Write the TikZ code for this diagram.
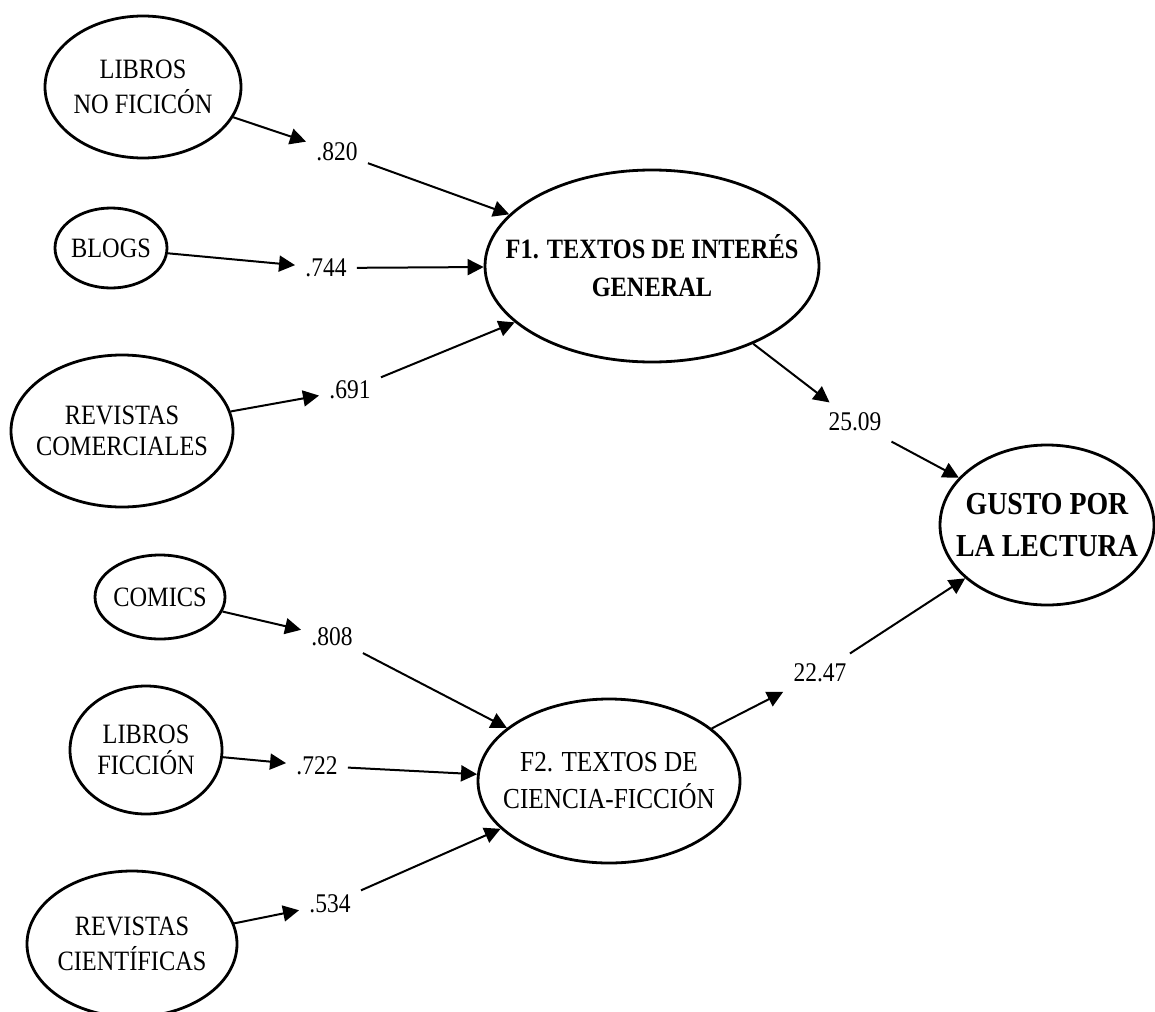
\documentclass[tikz,border=0pt]{standalone}
\usepackage{fontspec}
\setmainfont{Liberation Serif}[FakeStretch=0.87]
\usetikzlibrary{arrows.meta}
\usetikzlibrary{shapes.geometric}
\tikzset{>={Triangle[length=8pt,width=8pt]}}

\begin{document}
\begin{tikzpicture}[x=0.5pt,y=-0.5pt,
	var/.style={ellipse,draw,line width=1.4pt,inner sep=0pt},
	lbl/.style={align=center,font=\fontsize{14}{17.5}\selectfont},
	coef/.style={inner sep=5pt,font=\fontsize{13.5}{15}\selectfont},
	load/.style={->,line width=1pt}]
	\useasboundingbox (0,0) rectangle (1155,1011);
	% indicators of F1
	\node[var,minimum width=98pt,minimum height=71pt] (lnf) at (143,87) {};
	\node[lbl] (lnf-t) at (lnf) {LIBROS\\NO FICICÓN};
	\node[var,minimum width=56pt,minimum height=40pt] (blogs) at (111,248) {};
	\node[lbl] (blogs-t) at (blogs) {BLOGS};
	\node[var,minimum width=111pt,minimum height=76pt] (rcom) at (122,431) {};
	\node[lbl,font=\fontsize{14}{15.5}\selectfont] (rcom-t) at (rcom) {REVISTAS\\COMERCIALES};
	% indicators of F2
	\node[var,minimum width=65pt,minimum height=42pt] (comics) at (160,597) {};
	\node[lbl] (comics-t) at (comics) {COMICS};
	\node[var,minimum width=76pt,minimum height=64pt] (lfic) at (146,750) {};
	\node[lbl,font=\fontsize{14}{15.5}\selectfont] (lfic-t) at (lfic) {LIBROS\\FICCIÓN};
	\node[var,minimum width=105pt,minimum height=73pt] (rcie) at (132,944) {};
	\node[lbl] (rcie-t) at (rcie) {REVISTAS\\CIENTÍFICAS};
	% factors and outcome
	\node[var,minimum width=167pt,minimum height=96pt] (f1) at (652,266) {};
	\node[lbl,font=\bfseries\fontsize{14}{19}\selectfont] (f1-t) at (f1) {F1. TEXTOS DE INTERÉS\\GENERAL};
	\node[var,minimum width=131pt,minimum height=82pt] (f2) at (609,781) {};
	\node[lbl,font=\fontsize{14.5}{18.5}\selectfont] (f2-t) at (f2) {F2. TEXTOS DE\\CIENCIA-FICCIÓN};
	\node[var,minimum width=107pt,minimum height=80pt] (gusto) at (1047,525) {};
	\node[lbl,font=\bfseries\fontsize{16}{21}\selectfont] (gusto-t) at (gusto) {GUSTO POR\\LA LECTURA};
	% loadings
	\node[coef] (c820) at (337,152) {.820};
	\node[coef] (c744) at (326,268) {.744};
	\node[coef] (c691) at (350,390) {.691};
	\node[coef] (c808) at (332,637) {.808};
	\node[coef] (c722) at (317,766) {.722};
	\node[coef] (c534) at (330,904) {.534};
	\node[coef] (c2509) at (855,422) {25.09};
	\node[coef] (c2247) at (820,673) {22.47};
	% arrows
	\draw[load] (lnf) -- (c820);
	\draw[load] (c820) -- (f1);
	\draw[load] (blogs) -- (c744);
	\draw[load] (c744) -- (f1);
	\draw[load] (rcom) -- (c691);
	\draw[load] (c691) -- (f1);
	\draw[load] (comics) -- (c808);
	\draw[load] (c808) -- (f2);
	\draw[load] (lfic) -- (c722);
	\draw[load] (c722) -- (f2);
	\draw[load] (rcie) -- (c534);
	\draw[load] (c534) -- (f2);
	\draw[load] (f1) -- (c2509);
	\draw[load] (c2509) -- (gusto);
	\draw[load] (f2) -- (c2247);
	\draw[load] (c2247) -- (gusto);
\end{tikzpicture}
\end{document}
